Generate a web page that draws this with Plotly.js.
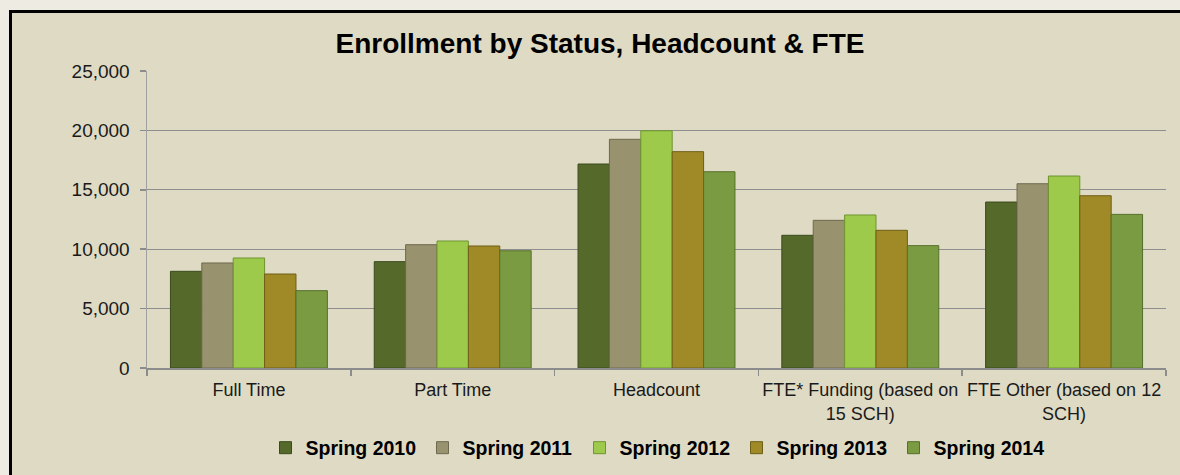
<!DOCTYPE html>
<html>
<head>
<meta charset="utf-8">
<script src="https://cdn.plot.ly/plotly-3.0.1.min.js"></script>
<style>
  html, body { margin: 0; padding: 0; background: #EEECE2; overflow: hidden; }
  #chart { width: 1180px; height: 475px; }
</style>
</head>
<body>
<div id="chart"></div>
<script>
const categories = ["Full Time", "Part Time", "Headcount",
  "FTE* Funding (based on<br>15 SCH)", "FTE Other (based on 12<br>SCH)"];
const seriesNames = ["Spring 2010", "Spring 2011", "Spring 2012", "Spring 2013", "Spring 2014"];
const spring2010 = [8140, 8950, 17170, 11170, 13970];
const spring2011 = [8840, 10380, 19250, 12430, 15510];
const spring2012 = [9260, 10690, 19970, 12880, 16160];
const spring2013 = [7910, 10270, 18210, 11590, 14500];
const spring2014 = [6510, 9870, 16520, 10300, 12930];
const yTickVals = [0, 5000, 10000, 15000, 20000, 25000];
const yTickText = ["0", "5,000", "10,000", "15,000", "20,000", "25,000"];

const allValues = [spring2010, spring2011, spring2012, spring2013, spring2014];
const colors = ["#55692B", "#99926F", "#9DCA4B", "#A08A28", "#7B9B42"];
const outlines = ["#3A4A1C", "#6E694E", "#6F9430", "#6E5E16", "#55702A"];

const traces = allValues.map((vals, i) => ({
  type: "bar",
  name: seriesNames[i],
  x: categories,
  y: vals,
  marker: { color: colors[i], line: { color: outlines[i], width: 1 } },
  hoverinfo: "x+y+name"
}));

// plot area in figure pixels: x 147..1166, y 71..368
const L = 147, R = 14, T = 71, B = 107, W = 1180, H = 475;
const pw = W - L - R, ph = H - T - B;
const px = v => (v - L) / pw;
const py = v => (H - B - v) / ph;

const layout = {
  width: W, height: H,
  margin: { l: L, r: R, t: T, b: B },
  paper_bgcolor: "#EEECE2",
  plot_bgcolor: "#EDEBE0",
  font: { family: "Liberation Sans, Arial, sans-serif", color: "#1a1a1a", size: 18 },
  title: {
    text: "<b>Enrollment by Status, Headcount & FTE</b>",
    font: { size: 28, color: "#000", family: "Liberation Sans, Arial, sans-serif" },
    x: 600 / W, xref: "container", xanchor: "center",
    y: 1 - 43 / H, yref: "container", yanchor: "middle"
  },
  shapes: [
    { type: "rect", layer: "below", xref: "paper", yref: "paper",
      x0: px(10), x1: px(1200), y0: py(10), y1: py(520),
      fillcolor: "#DEDAC4", line: { width: 0 } },
    { type: "line", layer: "below", xref: "paper", yref: "paper",
      x0: px(10.5), x1: px(1200), y0: py(11.5), y1: py(11.5),
      line: { color: "#000", width: 3 } },
    { type: "line", layer: "below", xref: "paper", yref: "paper",
      x0: px(10.5), x1: px(10.5), y0: py(10), y1: py(520),
      line: { color: "#000", width: 3 } }
  ],
  barmode: "group",
  bargap: 0.23,
  bargroupgap: 0,
  showlegend: true,
  legend: {
    orientation: "h",
    xref: "container", yref: "container",
    x: 658 / W, xanchor: "center",
    y: 1 - 448 / H, yanchor: "middle",
    entrywidth: 112, entrywidthmode: "pixels",
    font: { size: 19.5, color: "#000", family: "Liberation Sans, Arial, sans-serif", weight: "bold" },
    bgcolor: "rgba(0,0,0,0)",
    traceorder: "normal"
  },
  xaxis: {
    type: "category",
    showline: true, linecolor: "#8C8C8C", linewidth: 1.5,
    ticks: "outside", tickson: "boundaries", ticklen: 6, tickcolor: "#8C8C8C", tickwidth: 1.5,
    tickfont: { size: 18, color: "#1a1a1a" },
    tickangle: 0,
    showgrid: false,
    ticklabelstandoff: 5
  },
  yaxis: {
    range: [0, 25000],
    tickvals: yTickVals, ticktext: yTickText,
    showline: true, linecolor: "#A0A0A0", linewidth: 1.5,
    ticks: "outside", ticklen: 6, tickcolor: "#8C8C8C", tickwidth: 1.5,
    showgrid: true, gridcolor: "#8E8E8E", gridwidth: 1.2,
    zeroline: false,
    tickfont: { size: 19, color: "#1a1a1a" },
    ticklabelstandoff: 6,
    fixedrange: true
  }
};

Plotly.newPlot("chart", traces, layout, { displayModeBar: false, staticPlot: true });
</script>
</body>
</html>
